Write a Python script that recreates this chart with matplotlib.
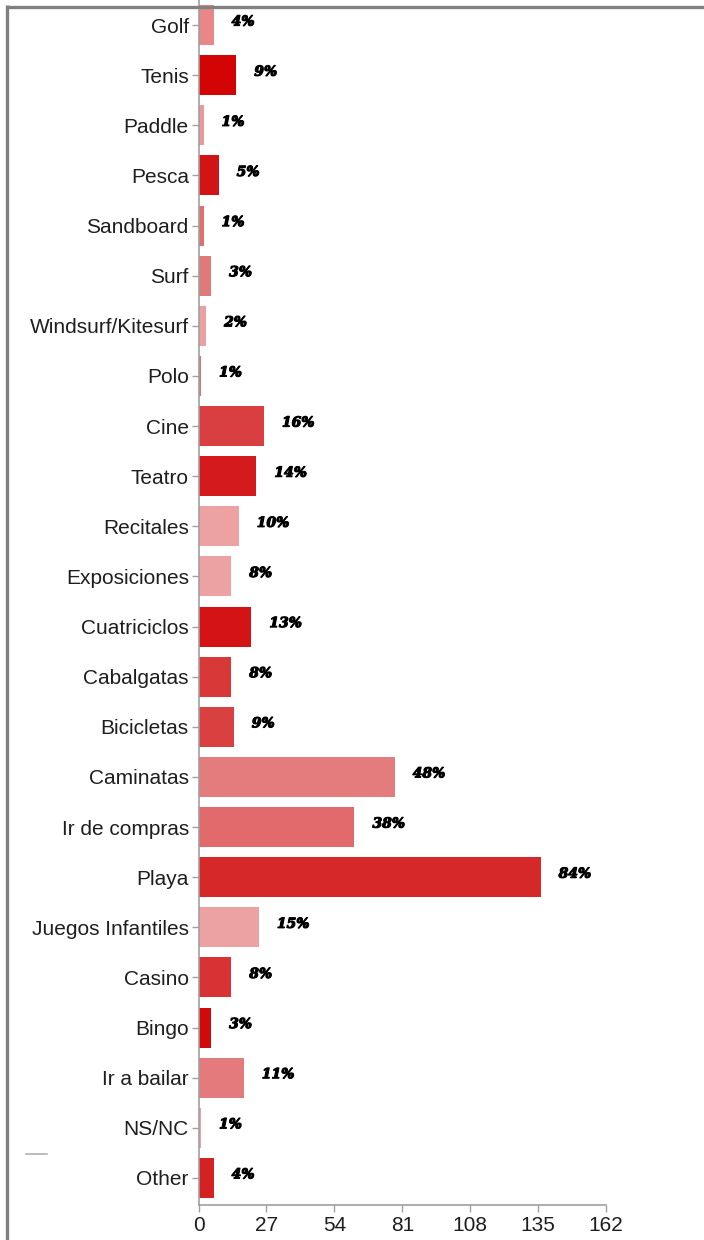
import matplotlib
matplotlib.use("Agg")
import matplotlib.pyplot as plt
import matplotlib.patheffects as pe
from matplotlib.lines import Line2D

# Activities (top to bottom) and number of respondents choosing each one
activities = [
    "Golf", "Tenis", "Paddle", "Pesca", "Sandboard", "Surf",
    "Windsurf/Kitesurf", "Polo", "Cine", "Teatro", "Recitales",
    "Exposiciones", "Cuatriciclos", "Cabalgatas", "Bicicletas",
    "Caminatas", "Ir de compras", "Playa", "Juegos Infantiles",
    "Casino", "Bingo", "Ir a bailar", "NS/NC", "Other",
]
counts = [6, 15, 2, 8, 2, 5, 3, 1, 26, 23, 16, 13, 21, 13, 14,
          78, 62, 136, 24, 13, 5, 18, 1, 6]
total_respondents = 162
x_ticks = [0, 27, 54, 81, 108, 135, 162]

bar_colors = [
    "#e88688", "#d20404", "#e89a9a", "#d31414", "#e07070", "#e07a7a",
    "#eaa0a0", "#e07070", "#d93e40", "#d41a1c", "#eca2a2", "#eca2a2",
    "#d41414", "#d93838", "#d94040", "#e47c7e", "#e26a6c", "#d62828",
    "#eca2a2", "#d83234", "#d00a0a", "#e47a7c", "#e8a0a0", "#d42222",
]

W, H = 704, 1240
fig = plt.figure(figsize=(W / 100, H / 100), dpi=100)
fig.patch.set_facecolor("white")

ax = fig.add_axes([198.5 / W, (H - 1205) / H, 407.5 / W, 1205 / H])

positions = list(range(len(activities)))
ax.barh(positions, counts, height=0.8, color=bar_colors,
        edgecolor="none", zorder=2)

ax.set_xlim(0, total_respondents)
ax.set_ylim(len(activities) - 0.46, -0.5)
ax.set_yticks(positions)
ax.set_yticklabels(activities, fontsize=15, family="Liberation Sans",
                   color="#1e1e1e")
ax.set_xticks(x_ticks)
ax.set_xticklabels([str(t) for t in x_ticks], fontsize=15,
                   family="Liberation Sans", color="#1e1e1e")

for side in ("top", "right"):
    ax.spines[side].set_visible(False)
for side in ("left", "bottom"):
    ax.spines[side].set_color("#a0a0a0")
    ax.spines[side].set_linewidth(1.2)
ax.tick_params(axis="y", length=5, width=1, color="#a0a0a0", pad=2)
ax.tick_params(axis="x", length=5, width=1, color="#a0a0a0", pad=3)

# Percentage of respondents written next to each bar
for pos, count in zip(positions, counts):
    pct = round(count / total_respondents * 100)
    ax.annotate(f"{pct}%", xy=(count, pos), xytext=(13, 2.5),
                textcoords="offset points", ha="left", va="center",
                fontsize=10, family="DejaVu Serif", weight="bold",
                style="italic", color="black",
                path_effects=[pe.withStroke(linewidth=0.8, foreground="black")],
                zorder=3)

# Page frame along the top and left edges
frame_color = "#808080"
fig.add_artist(Line2D([6 / W, 1.0], [1 - 6.5 / H, 1 - 6.5 / H],
                      transform=fig.transFigure, color=frame_color,
                      linewidth=2.4, solid_capstyle="butt", zorder=10))
fig.add_artist(Line2D([7.5 / W, 7.5 / W], [0.0, 1 - 5 / H],
                      transform=fig.transFigure, color=frame_color,
                      linewidth=2.4, solid_capstyle="butt", zorder=10))
fig.add_artist(Line2D([26 / W, 47 / W], [1 - 1154 / H, 1 - 1154 / H],
                      transform=fig.transFigure, color="#b0b0b0",
                      linewidth=1.2, zorder=10))

fig.savefig("out.png", dpi=100, facecolor="white")
